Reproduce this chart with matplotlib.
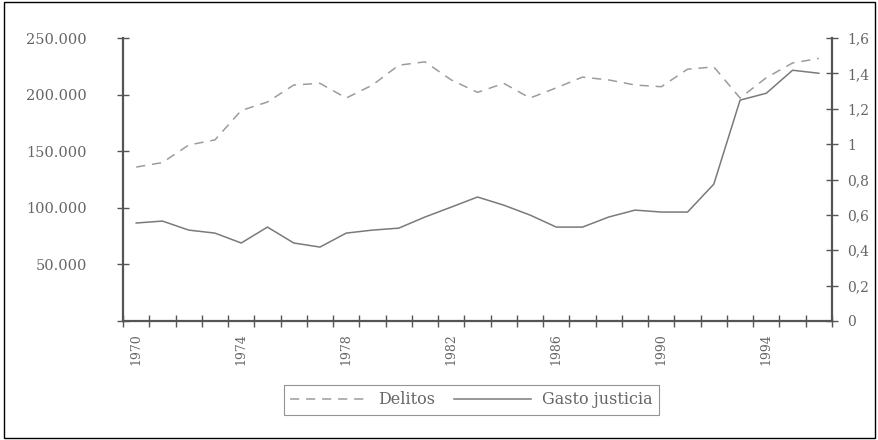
import numpy as np
import matplotlib.pyplot as plt
from matplotlib.patches import Rectangle

# datos
anios = list(range(1970, 1997))
delitos = [136000, 140000, 155500, 160000, 186000, 193500, 208500, 210000, 197000,
           208500, 226000, 229000, 213000, 202000, 210000, 197000, 206000, 215500,
           213000, 208500, 207000, 222500, 224500, 197000, 215000, 228000, 232000]
gasto_justicia = [0.554, 0.565, 0.514, 0.497, 0.441, 0.531, 0.441, 0.418, 0.497,
                  0.514, 0.525, 0.588, 0.644, 0.701, 0.655, 0.599, 0.531, 0.531,
                  0.588, 0.627, 0.616, 0.616, 0.774, 1.249, 1.288, 1.418, 1.401]

ticks_izq = [0, 50000, 100000, 150000, 200000, 250000]
etiquetas_izq = ["", "50.000", "100.000", "150.000", "200.000", "250.000"]
ticks_der = [0, 0.2, 0.4, 0.6, 0.8, 1.0, 1.2, 1.4, 1.6]
etiquetas_der = ["0", "0,2", "0,4", "0,6", "0,8", "1", "1,2", "1,4", "1,6"]
anios_etiqueta = [1970, 1974, 1978, 1982, 1986, 1990, 1994]

gris_texto = "#666666"
gris_eje = "#555555"
fuente = "DejaVu Serif"

x = np.arange(len(anios))

fig = plt.figure(figsize=(8.79, 4.40), dpi=100)
ax = fig.add_axes([0.140, 0.2705, 0.8065, 0.643])
ax2 = ax.twinx()

linea1, = ax.plot(x, delitos, color="#9c9c9c", lw=1.1, dashes=(6, 4.5), label="Delitos")
linea2, = ax2.plot(x, gasto_justicia, color="#7a7a7a", lw=1.1, label="Gasto justicia")

ax.set_xlim(-0.5, len(anios) - 0.5)
ax.set_ylim(0, 250000)
ax2.set_ylim(0, 1.6)

# ejes
for a in (ax, ax2):
    a.spines["top"].set_visible(False)
    for s in ("left", "right", "bottom"):
        a.spines[s].set_color(gris_eje)
        a.spines[s].set_linewidth(1.6)
ax.spines["right"].set_visible(False)
ax2.spines["left"].set_visible(False)
ax2.spines["bottom"].set_visible(False)

ax.set_yticks(ticks_izq)
ax.set_yticklabels(etiquetas_izq, fontfamily=fuente, fontsize=10.5, color=gris_texto)
ax.tick_params(axis="y", direction="inout", length=8, width=1, color=gris_eje, pad=22)

ax2.set_yticks(ticks_der)
ax2.set_yticklabels(etiquetas_der, fontfamily=fuente, fontsize=10, color=gris_texto)
ax2.tick_params(axis="y", direction="inout", length=8, width=1, color=gris_eje, pad=7)

# marcas del eje x entre categorias, etiquetas cada 4 anios
ax.set_xticks(np.arange(len(anios) + 1) - 0.5, minor=True)
ax.set_xticks([anios.index(a) for a in anios_etiqueta])
ax.set_xticklabels([str(a) for a in anios_etiqueta], rotation=90,
                   fontfamily=fuente, fontsize=9, color=gris_texto)
ax.tick_params(axis="x", which="major", length=0, pad=9)
ax.tick_params(axis="x", which="minor", direction="inout", length=8, width=1, color=gris_eje)

leg = fig.legend(handles=[linea1, linea2], loc="center", bbox_to_anchor=(0.536, 0.091),
                 ncol=2, frameon=True, fancybox=False, handlelength=4.8, columnspacing=1.2,
                 handletextpad=0.7, borderpad=0.4, prop={"family": fuente, "size": 11.5})
leg.get_frame().set_edgecolor("#777777")
leg.get_frame().set_linewidth(0.8)
for t in leg.get_texts():
    t.set_color(gris_texto)

# marco exterior
fig.patches.append(Rectangle((0.004, 0.005), 0.992, 0.99, transform=fig.transFigure,
                             fill=False, edgecolor="black", lw=1))

fig.savefig("out.png", dpi=100)
